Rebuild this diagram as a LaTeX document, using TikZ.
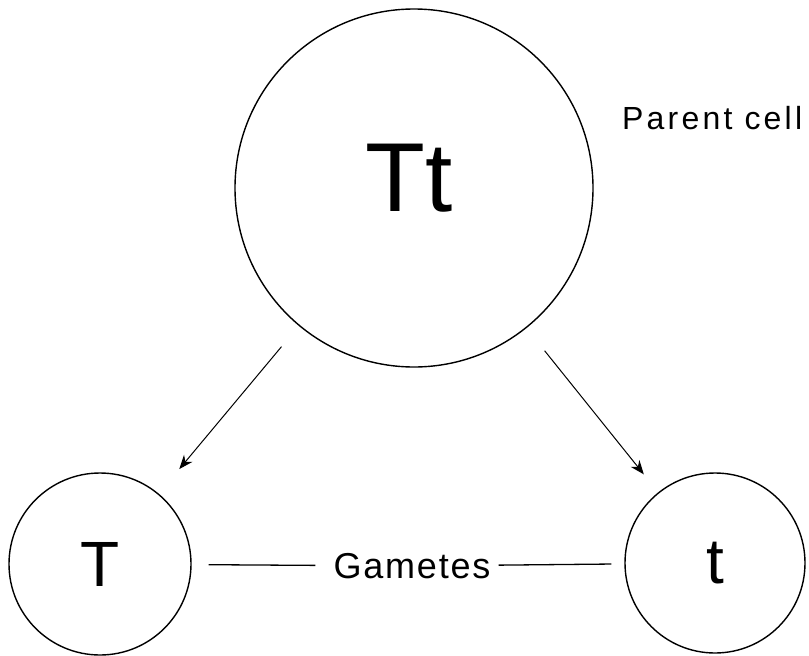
\documentclass[tikz,border=0pt]{standalone}
\usepackage{fontspec}
\setmainfont{Liberation Sans}
\newfontfamily\spacedfont[LetterSpace=10]{Liberation Sans}
\newfontfamily\gamfont[LetterSpace=5]{Liberation Sans}
\usetikzlibrary{arrows.meta}
\tikzset{
  cell/.style={draw, circle, line width=1.4pt, inner sep=0pt},
  allele/.style={font=\fontsize{64}{64}\selectfont},
}
\begin{document}
\begin{tikzpicture}[x=1pt,y=-1pt]
    \useasboundingbox (0,0) rectangle (809,656);
    \node[cell, minimum size=358pt, text depth=20pt,
      font=\fontsize{98}{98}\selectfont] (Tt) at (414,188) {Tt\hspace*{10pt}};
    \node[cell, allele, minimum size=182pt] (T) at (100,564) {T};
    \node[cell, allele, minimum size=180pt] (t) at (715,563) {t};
    \node[anchor=base west, inner sep=0pt,
      font=\fontsize{32}{32}\spacedfont] (parent) at (622,129) {Parent cell};
    \node[inner sep=0pt, font=\fontsize{36}{36}\gamfont] (gametes) at (412,566) {Gametes};
    \begin{scope}[-{Stealth[length=14pt,width=11pt]}, line width=1pt]
      \draw[shorten <=27pt, shorten >=32pt] (Tt) -- (T);
      \draw[shorten <=29pt, shorten >=23pt] (Tt) -- (t);
    \end{scope}
    \draw[line width=1.3pt, shorten <=17pt, shorten >=18pt] (T) -- (gametes);
    \draw[line width=1.3pt, shorten <=8pt, shorten >=13pt] (gametes) -- (t);
  \end{tikzpicture}
\end{document}
